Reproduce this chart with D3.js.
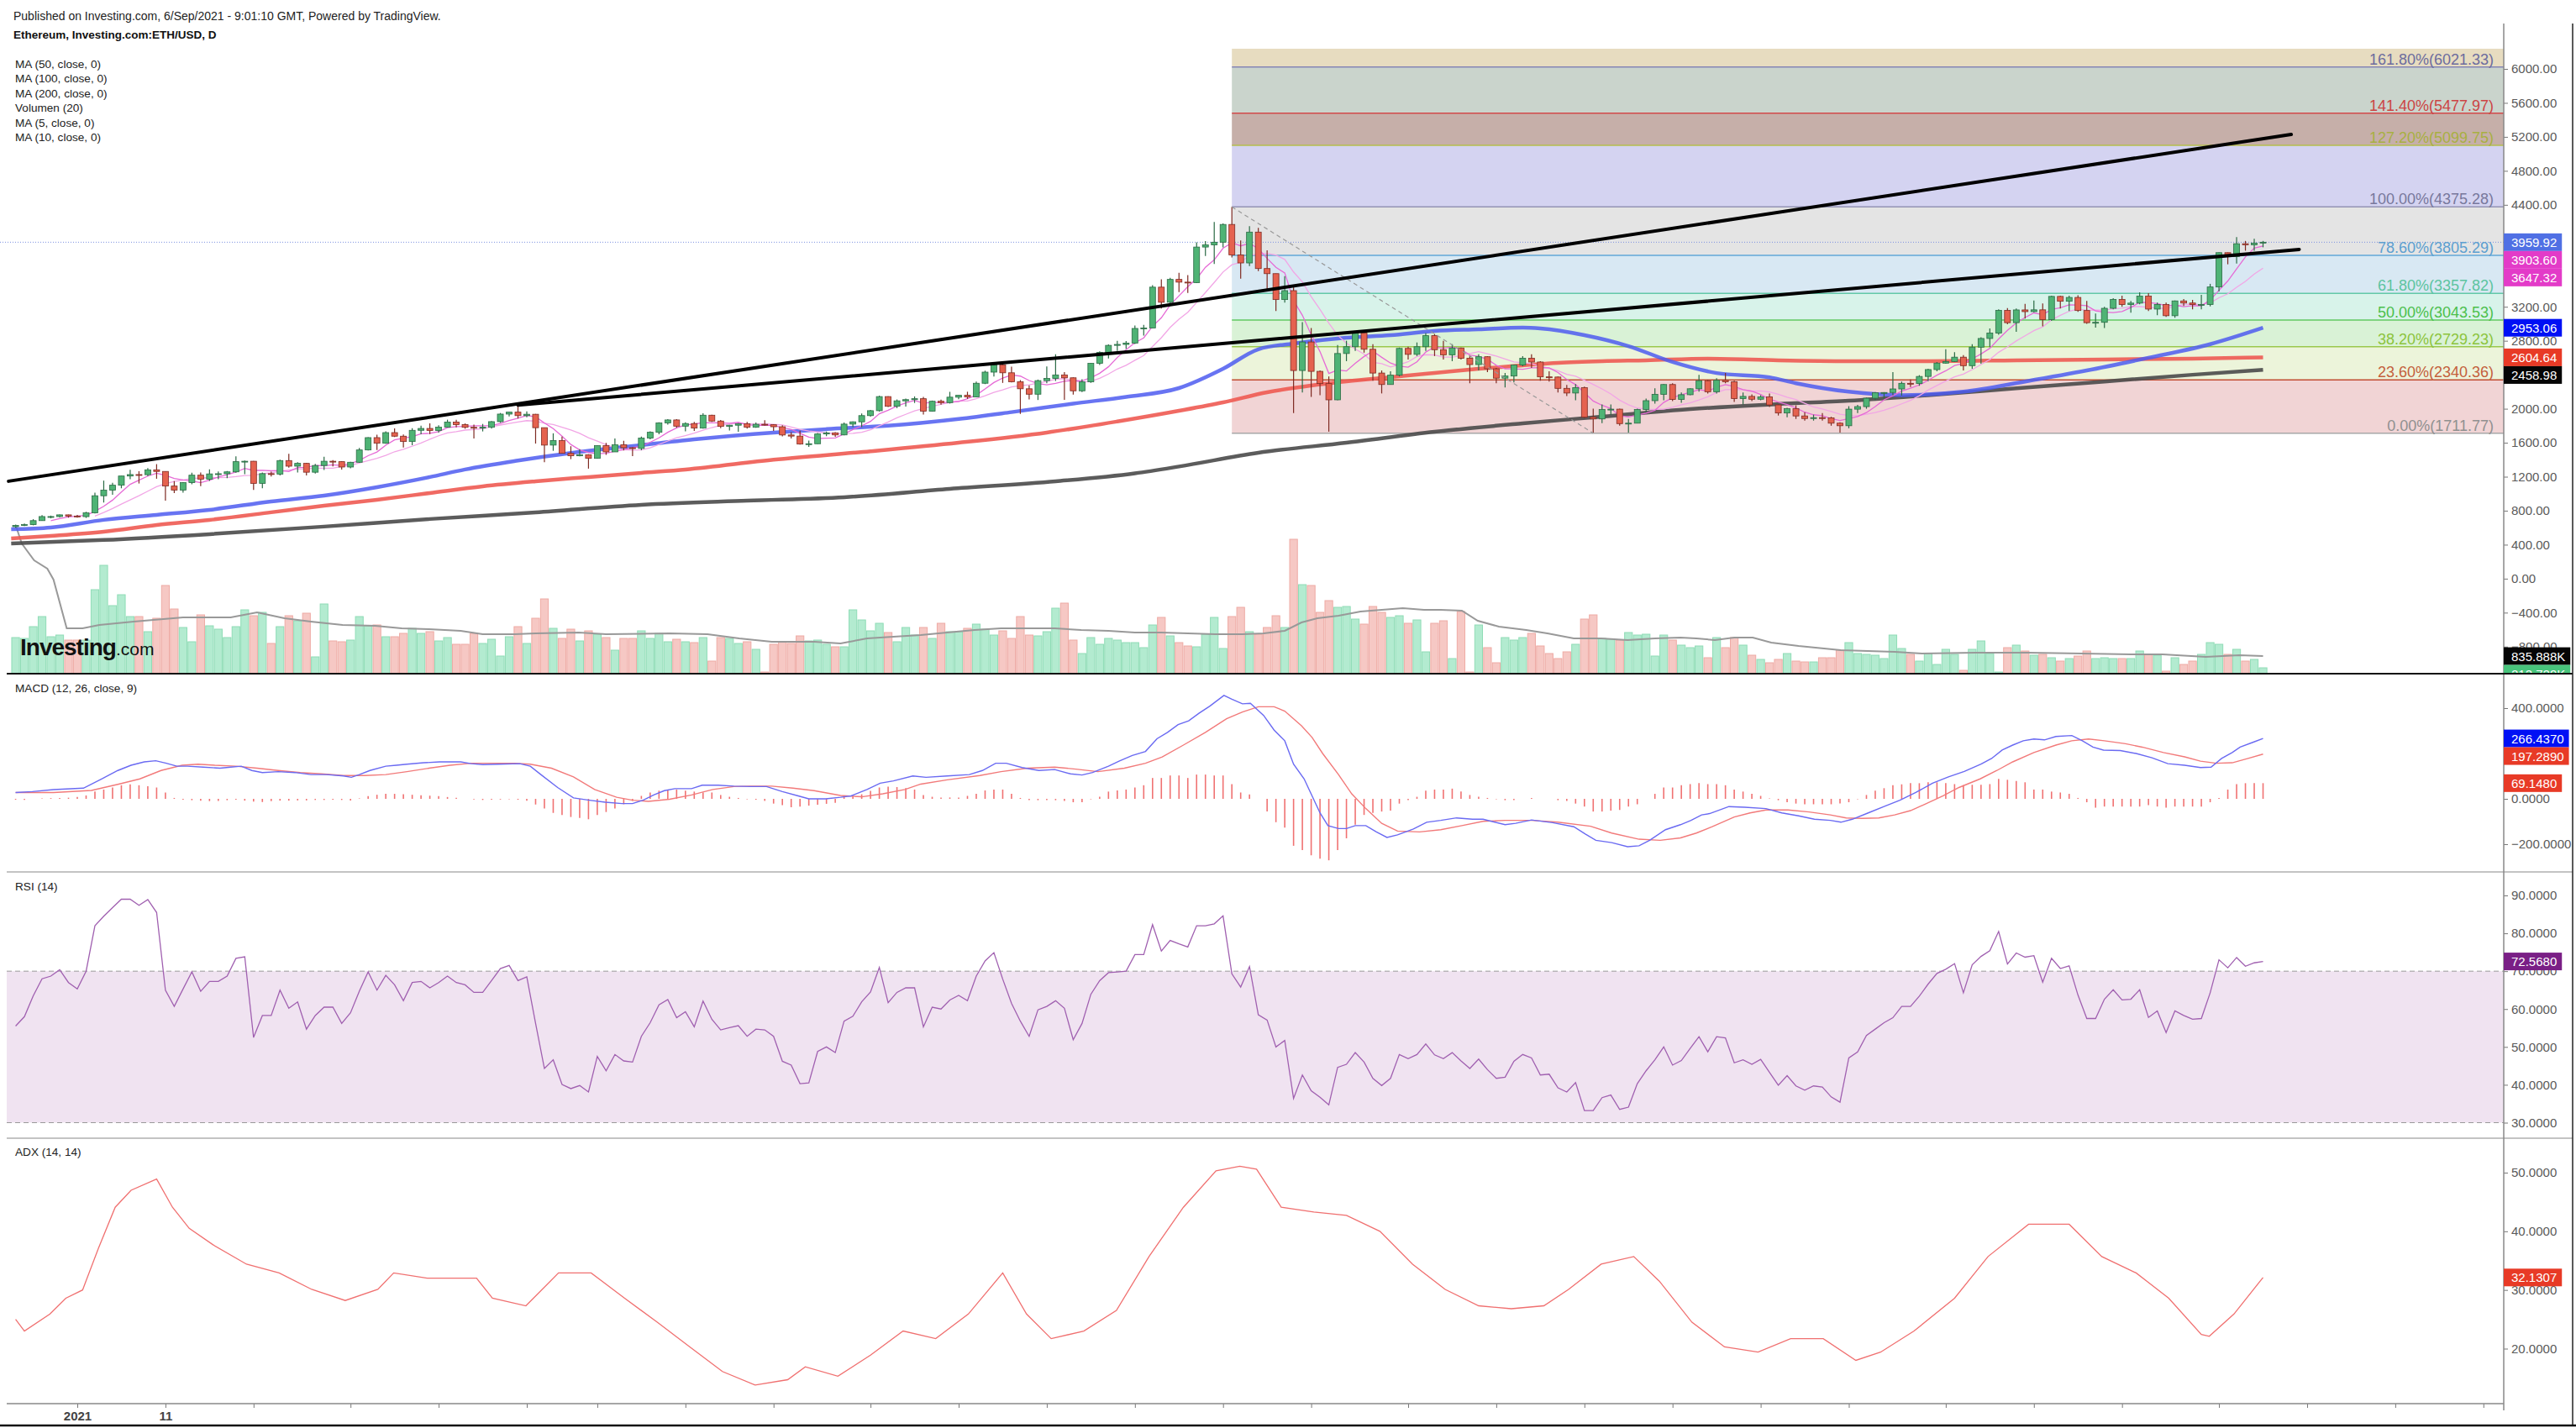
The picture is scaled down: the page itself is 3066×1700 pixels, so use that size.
<!DOCTYPE html>
<html><head><meta charset="utf-8">
<script src="https://cdn.jsdelivr.net/npm/d3@7"></script>
<style>
html,body{margin:0;padding:0;background:#fff;}
svg{display:block;font-family:"Liberation Sans",Arial,Helvetica,sans-serif;}
</style></head><body>
<svg id="chart" width="3066" height="1700"></svg>
<script>
// ================= DATA =================
// Daily candles from 2020-12-25 to 2021-09-06 (day offset -7 .. 248 from 2021-01-01)
const firstDayOffset = -7;
const firstOpen = 612;
const closes = [
626,636,683,731,731,751,737,
730,774,976,1041,1100,1208,1225,1224,1281,1262,1090,1043,1130,1218,1171,1233,1235,1257,1377,1382,1121,1236,1231,1390,1324,1357,1253,1332,1382,1377,1314,
1370,1515,1660,1594,1719,1677,1614,1746,1768,1744,1783,1843,1814,1781,1780,1782,1848,1937,1960,1919,1935,1777,1572,1626,1475,1446,1459,1416,
1565,1492,1575,1541,1533,1654,1723,1834,1868,1795,1826,1772,1924,1855,1792,1806,1823,1782,1817,1812,1788,1691,1678,1584,1588,1703,1716,1692,1819,1846,1919,
1977,2143,2029,2093,2107,2118,1971,2088,2072,2136,2158,2139,2300,2431,2514,2423,2317,2235,2171,2331,2357,2398,2364,2211,2316,2534,2662,2746,2757,2773,
2945,2950,3431,3253,3522,3490,3484,3903,3928,3960,4169,3810,3716,4079,3650,3590,3285,3390,2450,2786,2440,2296,2105,2650,2730,2890,2700,2420,2285,2395,2710,
2640,2730,2860,2695,2635,2715,2595,2520,2612,2470,2360,2385,2515,2595,2550,2375,2373,2240,2185,2248,1900,1880,1990,1995,1825,1830,1990,2095,2170,2285,
2110,2165,2235,2330,2200,2335,2318,2120,2145,2112,2140,2045,1950,2000,1915,1885,1895,1892,1830,1800,1995,2025,2124,2188,2191,2233,2299,2297,2380,2461,2537,
2556,2607,2507,2725,2827,2890,3157,3013,3163,3143,3164,3049,3322,3265,3310,3156,3013,3017,3182,3286,3226,3243,3325,3173,3227,3095,3269,3244,3226,3227,3433,
3837,3792,3942,3930,3950,3960];
const highs = [
636,648,700,748,742,754,754,
749,787,1011,1154,1129,1209,1282,1265,1301,1348,1262,1148,1135,1248,1250,1287,1262,1268,1439,1390,1385,1250,1260,1400,1470,1370,1363,1350,1436,1395,1383,
1376,1539,1665,1695,1735,1769,1697,1771,1800,1827,1805,1871,1871,1827,1812,1821,1856,1950,1961,2042,1969,1939,1777,1711,1672,1559,1525,1464,
1567,1598,1651,1622,1548,1671,1734,1840,1877,1877,1839,1845,1947,1930,1867,1810,1830,1844,1837,1864,1819,1806,1723,1742,1624,1713,1732,1725,1838,1850,1943,
1986,2154,2147,2109,2119,2145,2139,2096,2106,2199,2160,2200,2319,2448,2541,2547,2495,2337,2275,2343,2497,2641,2430,2370,2346,2536,2676,2756,2798,2796,
2979,2986,3454,3523,3541,3600,3573,3959,3973,4197,4180,4375,3980,4148,4130,3864,3540,3560,3440,3020,2950,2450,2380,2750,2800,2912,2890,2760,2450,2440,2720,
2730,2780,2890,2880,2800,2760,2720,2620,2640,2620,2480,2420,2520,2620,2640,2560,2440,2380,2280,2290,2260,2000,2050,2050,2000,1880,2000,2120,2240,2290,
2300,2190,2240,2400,2340,2360,2420,2330,2190,2170,2160,2180,2050,2010,2040,1960,1930,1950,1905,1840,2030,2045,2130,2195,2195,2430,2320,2345,2395,2470,2550,
2700,2665,2630,2760,2840,2945,3170,3185,3180,3235,3275,3240,3330,3330,3330,3335,3270,3120,3200,3300,3330,3270,3370,3360,3250,3250,3275,3290,3280,3340,3470,
3840,3840,4020,3975,4000,3975];
const lows = [
598,619,628,680,710,720,718,
719,715,768,896,987,1064,1171,1120,1207,1176,918,1007,1011,1111,1090,1150,1170,1183,1247,1230,1044,1063,1203,1215,1306,1250,1216,1236,1280,1320,1283,
1299,1364,1508,1515,1588,1666,1543,1571,1700,1703,1718,1780,1781,1765,1651,1733,1765,1835,1910,1885,1899,1590,1371,1505,1472,1407,1439,1295,
1413,1458,1492,1509,1442,1512,1640,1700,1812,1775,1734,1738,1765,1845,1770,1743,1730,1766,1776,1800,1739,1675,1651,1578,1550,1585,1676,1669,1686,1784,1783,
1907,1967,2021,2007,2026,2068,1931,1968,2048,2061,2113,2116,2138,2290,2380,2304,2310,1939,2110,2103,2300,2327,2104,2167,2195,2306,2515,2591,2680,2706,
2763,2862,2950,3180,3228,3372,3362,3478,3797,3704,3900,3780,3530,3680,3620,3400,3150,3250,1950,2190,2140,2160,1730,2100,2560,2680,2660,2330,2180,2320,2380,
2580,2620,2680,2620,2580,2560,2580,2300,2450,2430,2300,2250,2310,2500,2480,2330,2320,2190,2150,2100,1890,1720,1830,1930,1800,1720,1830,1960,2060,2100,
2090,2070,2160,2200,2180,2180,2300,2080,2050,2090,2100,2020,1920,1900,1880,1860,1860,1860,1800,1720,1770,1950,2000,2100,2120,2160,2155,2255,2270,2325,2440,
2530,2550,2450,2470,2530,2725,2870,2995,2905,3060,3135,2970,3035,3180,3150,3140,3000,2955,2950,3170,3200,3130,3230,3150,3100,3080,3070,3210,3170,3170,3205,
3380,3700,3710,3860,3860,3900];
// volume, thousands
const volumes = [
1720,1680,2240,2720,1760,1840,1600,1600,1600,4000,5160,3240,3760,2720,2720,2000,2640,
4200,3080,2200,1520,2800,2280,2120,1720,2240,3040,2760,2920,1440,2240,2760,2520,2880,800,3320,1560,
1520,1600,2720,2280,2320,1760,1760,1920,2160,1920,2000,1560,1720,1400,1400,1920,1440,1640,840,1760,
2240,1440,2640,3560,2160,1680,2120,1560,2040,1880,1720,1120,1680,1680,2040,1680,1920,1520,1640,1520,
1480,1720,600,1720,1680,1440,1520,1160,80,1400,1520,1440,1800,1560,1600,1400,1280,1280,3040,2560,
2040,2400,1960,1520,2200,1840,2200,1680,2400,2000,2000,2160,2360,2120,1840,2040,1680,2720,1840,1800,
2000,3120,3360,1600,960,1720,1400,1680,1600,1480,1480,1240,2320,2680,1800,1480,1320,1280,1880,2680,
1200,2720,3160,2000,1880,2200,2760,2200,6400,4240,4200,2920,3480,3160,3200,2600,2360,3200,2920,2680,
2760,2400,2560,1040,2400,2520,720,2960,80,2320,1240,520,1720,1600,1720,1920,1320,960,720,1040,
1400,2600,2800,1680,1640,1600,1960,1840,1880,840,1840,1600,1360,1240,1320,760,1720,1240,1720,1360,
880,680,520,680,960,600,560,560,760,760,1120,1480,960,920,880,720,1840,1200,920,600,
960,440,1160,920,160,1160,1560,960,80,1240,1360,1080,880,920,760,600,720,840,1080,720,
760,720,720,720,1080,920,880,120,760,440,600,920,1480,1400,920,1160,600,680,280];
// Volume MA(20): [day offset, value in thousands]
const volMA = [[-7,7080],[-6.3,6200],[-4.9,5400],[-3.4,5000],[-2.7,4480],[-1.2,2160],[0.6,2160],[2.5,2320],[6.4,2480],[12,2680],[17.4,2680],[20.4,2920],[23.5,2640],[26.5,2480],[30.1,2320],[33.8,2280],[36.8,2160],[39.9,2120],[43.5,2040],[46,1880],[49.6,1880],[52,1920],[56.9,1960],[60,1880],[67.2,1920],[71.5,1880],[75.1,1680],[78.8,1520],[83.6,1520],[86.6,1440],[89.6,1680],[92.6,1760],[95.7,1840],[98.7,1960],[101.8,2080],[104.8,2160],[110.9,2160],[113.9,2080],[117,2040],[120,1960],[123,1960],[126,1920],[129.1,1880],[132.2,1880],[134.6,1920],[137,2040],[138.9,2440],[140.7,2640],[143.1,2760],[145.6,2960],[148,3040],[150.4,3120],[152.8,3040],[154.7,3040],[157.1,3000],[158.9,2520],[161.3,2240],[164.4,2080],[166.8,1920],[169.8,1680],[172.9,1680],[175.9,1600],[179,1680],[181.9,1720],[183.7,1680],[185.8,1600],[188,1720],[190.1,1720],[192.2,1480],[195.3,1320],[200.1,1120],[206.2,1040],[209.3,960],[215.3,1000],[221.4,1000],[227.5,960],[233,920],[236.6,920],[241.5,800],[245.3,880],[248,835.888]];
// Moving averages: [day offset, price]
const ma50 = [[-7.5,583],[-3,603],[3,692],[9,751],[15,810],[22,909],[28,978],[34,1077],[40,1196],[44,1285],[50,1390],[56,1480],[63,1560],[70,1640],[79,1720],[85,1760],[92,1800],[100,1880],[106,1960],[113,2060],[119,2140],[125,2243],[130,2470],[134,2700],[138,2767],[144,2836],[149,2866],[154,2915],[159,2935],[164,2955],[166,2945],[171,2866],[176,2737],[181,2550],[186,2420],[192,2370],[195,2300],[201,2200],[207,2160],[214,2200],[221,2320],[228,2450],[235,2600],[242,2760],[248,2953.06]];
const ma100 = [[-7.5,474],[-3,504],[3,553],[9,632],[15,692],[22,781],[28,860],[34,929],[40,1008],[46,1087],[52,1146],[58,1196],[64,1245],[69,1285],[79,1400],[90,1500],[100,1600],[110,1720],[118,1850],[125,1976],[130,2075],[135,2194],[140,2273],[144,2322],[149,2372],[154,2421],[159,2470],[164,2510],[168,2540],[173,2560],[178,2570],[185,2590],[193,2570],[201,2560],[210,2560],[220,2570],[230,2580],[240,2590],[248,2604.64]];
const ma200 = [[-7.5,415],[3,455],[15,524],[28,613],[40,702],[52,781],[64,870],[76,919],[87,959],[99,1057],[111,1146],[120,1240],[125,1320],[134,1482],[144,1600],[154,1729],[164,1828],[173,1907],[183,1996],[193,2055],[201,2095],[210,2160],[220,2240],[230,2320],[240,2400],[248,2458.98]];
// MACD (12,26,9): [day offset, value]
const macdLine = [[-7,28],[-5.1,32],[-2.7,41],[0.7,47],[2.8,88],[4.6,125],[6.1,148],[7.6,163],[8.9,168],[10.1,157],[11.3,144],[12.5,144],[14.3,140],[16.2,135],[17.4,140],[18.6,144],[19.8,125],[21,116],[22.8,120],[24.7,116],[26.5,107],[28.3,107],[30.2,101],[31.1,95],[32,107],[33.2,125],[35,144],[36.2,148],[37.4,153],[39.3,159],[41.1,163],[43.5,163],[44.7,155],[46,151],[47.8,153],[50.2,155],[51.4,144],[52.6,107],[54.5,50],[56.3,4],[58.1,-6],[59.9,-15],[61.8,-21],[63,-21],[64.2,-6],[65.4,17],[66.6,36],[67.8,45],[69.7,45],[70.9,60],[72.7,60],[74.5,56],[76.3,54],[78.2,54],[80,32],[81.8,13],[83,0],[84.9,0],[86.6,7],[87.8,13],[89.6,41],[91.1,69],[92.6,79],[94.8,101],[96.3,95],[98.7,101],[101.2,107],[102.7,125],[104.2,157],[105.4,157],[107.2,138],[109.1,125],[110.9,129],[112.7,110],[114,105],[115.2,116],[117,144],[118.2,166],[119.7,191],[121.2,209],[122.5,265],[123.7,293],[124.9,327],[126.1,344],[127.3,378],[128.5,409],[130.1,456],[131,439],[132.2,419],[133.1,421],[134.6,368],[135.8,303],[137,256],[138,153],[139.2,88],[140.1,13],[141,-62],[141.9,-118],[143.1,-131],[144,-131],[145,-118],[146.2,-118],[147.4,-146],[148.6,-170],[149.8,-159],[151.6,-133],[153.1,-103],[154.7,-95],[156.5,-84],[158.3,-90],[159.5,-90],[162,-114],[163.2,-108],[165,-93],[167.4,-105],[169.8,-123],[171.1,-155],[172.3,-183],[174.1,-193],[175.9,-211],[177.2,-207],[178.4,-183],[180.2,-136],[181.9,-114],[183.1,-95],[184.3,-71],[185.2,-65],[187.4,-34],[189.2,-37],[191.6,-43],[193.4,-62],[195.3,-75],[197.1,-90],[198.9,-95],[200.1,-103],[201.4,-90],[203.2,-62],[205,-34],[206.8,-6],[208.6,28],[210.5,69],[212.3,97],[214.1,121],[216,153],[217.2,178],[218.4,215],[219.6,237],[220.8,256],[222,264],[223.2,260],[224.5,275],[226.3,279],[227.5,256],[228.7,228],[229.9,215],[231.8,213],[233.6,200],[235.4,181],[237.2,155],[239.1,148],[240.9,138],[242.1,140],[243.3,178],[244.5,204],[245.4,228],[246.9,250],[248,266.437]];
const signalLine = [[-7,28],[-2.7,28],[1.6,37],[4.6,64],[7.1,88],[9.5,125],[11.9,148],[13.7,153],[15.6,148],[18,144],[20.4,135],[22.8,125],[25.3,116],[27.7,110],[30.2,103],[32.6,103],[35,107],[37.4,120],[39.9,135],[42.3,148],[44.7,157],[47.2,157],[49.6,157],[51.4,153],[53.8,135],[56.3,97],[58.7,41],[61.2,7],[63,-6],[64.8,-11],[67.2,-2],[69.7,17],[72.1,41],[74.5,54],[76.3,56],[78.8,56],[81.2,47],[83.6,36],[86.6,15],[89,9],[91.4,22],[93.9,41],[95.7,65],[98.7,84],[102.4,103],[104.8,120],[107.8,135],[110.9,140],[113.3,131],[115.8,120],[118.8,135],[121.2,157],[123.1,185],[125.5,237],[128,293],[130.4,353],[132.2,383],[134,406],[135.8,406],[137,387],[138.9,322],[140.1,271],[141.3,200],[143.1,107],[144.6,22],[146.2,-43],[148,-108],[149.8,-142],[152.3,-146],[154.7,-136],[157.1,-118],[159.5,-99],[162,-95],[165,-95],[168,-103],[171.7,-121],[174.1,-151],[177.2,-178],[179.6,-183],[181.9,-172],[183.7,-151],[185.5,-123],[188,-80],[189.8,-62],[191.6,-49],[194.1,-49],[196.5,-58],[198.9,-71],[200.7,-84],[202.5,-86],[204.4,-84],[206.2,-71],[208,-52],[209.8,-21],[211.7,13],[213.5,50],[215.9,88],[217.8,125],[219.6,163],[222,204],[224.5,237],[226.3,256],[228.2,264],[230,256],[232.4,243],[234.3,228],[236.7,204],[239.1,185],[240.9,166],[242.7,157],[244.5,159],[246.3,178],[248,197.289]];
// MACD histogram, one value per candle
const macdHist = [
-4,-5,0,2,3,4,5,8,15,32,41,50,60,64,60,56,50,
28,4,-4,-6,-8,-10,-9,-6,-4,-8,-12,-14,-10,-8,-8,-7,-7,-5,-5,-4,
-5,-7,2,12,18,22,22,20,18,16,14,12,8,5,0,-3,-5,-4,-3,-2,
-4,-8,-25,-43,-62,-71,-80,-84,-90,-71,-58,-43,-24,-9,13,28,36,41,41,36,
32,28,28,17,9,4,-2,-4,-9,-21,-28,-37,-34,-30,-26,-22,-18,10,13,20,
35,50,54,52,47,41,17,9,6,6,6,13,22,37,41,41,22,4,-6,-6,
-6,-6,-9,-15,-15,-2,9,32,37,41,50,60,92,92,103,103,92,107,107,103,
103,65,28,19,0,-56,-103,-127,-207,-226,-249,-264,-271,-226,-174,-114,-71,-62,-56,-52,
-21,-6,9,36,41,41,45,32,17,9,4,-2,-6,-6,0,4,0,0,-6,-9,
-21,-34,-56,-56,-52,-49,-34,-24,0,22,50,50,60,65,69,65,65,60,41,32,
22,13,2,-6,-15,-21,-24,-24,-24,-24,-20,-15,-2,17,36,47,60,64,69,69,
73,73,69,65,60,62,62,65,88,84,79,73,41,41,32,28,22,4,-15,-39,
-34,-34,-34,-34,-34,-28,-34,-39,-34,-34,-34,-34,-15,4,41,65,69,69,69.148];
// RSI(14), one value per candle
const rsi = [
55.5,58,63.5,68,68.7,70.4,67,65.3,70,82,84.5,86.8,89,89,87.4,88.9,85.5,
65,60.7,65.3,69.8,64.7,67.3,67.3,68.7,73.4,73.8,52.5,58.3,58.3,65,60.2,61.9,54.7,58.3,60.5,60.5,
56.2,59,64.7,69.8,65,68.9,66.4,62.2,67,67.3,65.6,67,68.7,67,66.4,64.4,64.4,67.5,70.7,71.5,
67.5,68.5,56.2,44.3,46.6,40.1,39,39.8,38.1,47.5,43.7,48,46.3,46,52.8,56.4,61.1,62.5,57.7,59.3,
55.3,62.1,57.3,54.5,55.1,55.6,52.8,54.7,54.5,52.8,46.2,45.2,40.3,40.5,48.8,50,48.5,56.8,58.1,61.9,
64.5,71,61.7,64.4,65.6,65.6,55.3,60.5,60,62.4,63.6,62.2,68.7,72.7,74.9,67.9,61.5,56.8,52.8,59.8,
60.7,62.2,60.2,51.9,56.2,63.9,67.5,69.6,69.8,70,74.4,74.4,82.3,75.3,78.1,77.2,76.4,82,82,82.5,
84.6,69.3,65.8,71.2,58.5,57.1,50,51.7,36.4,42.6,38.4,36.7,34.7,44.6,45.4,48.5,46,41.7,39.8,41.7,
48,46.9,48,50.8,47.9,46.9,48.5,46.3,44.3,46.8,44,41.7,42,46.2,48,47.1,42.6,42.8,39.2,38.1,
40.6,33.2,33.2,36.6,37.3,33.5,34.1,40.3,43.7,46.6,50,45.2,46.4,49.6,52.7,48.7,52.7,52.4,45.8,46.6,
45.4,46.7,43.3,39.9,42.4,39.7,38.6,39.7,39.4,36.8,35.4,47.1,48.7,53,54.7,56.4,57.7,60.7,60.7,63.4,
66.6,69.4,70.5,72,64.3,71.7,73.9,75.4,80.5,71.9,74.8,73.7,74.1,67.1,73.4,70.7,71.4,63.7,57.5,57.5,
62.6,65.1,62.4,62.6,65.1,57.8,59.5,53.8,59.5,58.3,57.3,57.5,64.3,73,70.9,73.6,71.3,72.2,72.568];
// ADX(14,14): [day offset, value]
const adx = [[-7,25],[-6,23],[-3.1,25.9],[-1.3,28.6],[0.6,30],[2.4,37.1],[4.3,44.1],[6.1,47],[9,48.9],[10.8,44.1],[12.7,40.5],[15.4,37.7],[19.2,34.4],[22.9,32.9],[26.6,30.1],[30.4,28.2],[34.1,30.1],[35.9,32.9],[39.7,32],[45.3,32],[47.1,28.6],[50.9,27.3],[54.6,32.9],[58.3,32.9],[62.1,28.6],[65.8,24.5],[69.5,20.3],[73.2,16.1],[76.9,13.8],[80.6,14.7],[82.6,16.9],[86.3,15.3],[90,18.9],[93.7,23],[97.4,21.7],[101.1,25.9],[105,32.9],[107.7,25.9],[110.5,21.7],[114.2,23],[117.9,26.5],[121.6,35.7],[125.5,44.1],[129.2,50.3],[131.9,51.1],[133.8,50.6],[136.6,44.1],[140.3,43.3],[144,42.7],[147.8,40],[151.5,34.4],[155.2,30.1],[159,27.3],[162.7,26.8],[166.4,27.3],[169.2,30.1],[172.9,34.4],[176.6,35.7],[179.5,31.5],[183.2,24.5],[186.9,20.3],[190.7,19.4],[194.4,21.7],[198.1,21.7],[201.8,18],[204.6,19.4],[208.4,23],[213,28.6],[216.8,35.7],[221.4,41.2],[226,41.2],[229.7,35.7],[233.6,32.9],[237.3,28.6],[241,22.4],[241.9,22.1],[244.7,25.9],[248,32.1307]];
// Fibonacci retracement (from 2021-05-12 high to 2021-06-22 low)
const fibRatios = ["161.80%","141.40%","127.20%","100.00%","78.60%","61.80%","50.00%","38.20%","23.60%","0.00%"];
const fibValues = [6021.33,5477.97,5099.75,4375.28,3805.29,3357.82,3043.53,2729.23,2340.36,1711.77];
const fibStartDay = 131, fibEndDay = 172;
// Trend lines: [day offset, price]
const trendLines = [[[-7.8,1147],[251.2,5229]],[[50,2042],[252.1,3875]]];
const lastPrice = 3959.92;
const ma5Last = 3903.60, ma10Last = 3647.32;
const volLast = "213.729K", volMALast = "835.888K";
const legendLines = ["MA (50, close, 0)","MA (100, close, 0)","MA (200, close, 0)","Volumen (20)","MA (5, close, 0)","MA (10, close, 0)"];
const xTickLabels = ["2021","11"];
const priceTicks = d3.range(-800, 6001, 400);
const macdTicks = [-200,0,200,400];
const rsiTicks = [30,40,50,60,70,80,90];
const adxTicks = [20,30,40,50];

// ================= LAYOUT / STYLE =================
const AX = 2980, RIGHT = 3062;
const P = {top:58, vol:802, macdB:1038, rsiB:1355, adxB:1671};
const fibFill = ["#e7dcc0","#cad4cc","#c6afa9","#d4d3f1","#e4e4e4","#d8e8f3","#d8f3ea","#d9f2d6","#ecf4da","#f1d4d5"];
const fibLine = ["#8585b5","#d24a4a","#b4bc4c","#9494b4","#62a8d8","#62c8a8","#62c862","#9ac84c","#c24c32","#a8a8a8"];
const fibText = ["#6c6c9e","#cc4444","#a8b042","#78789c","#5c9fd0","#5cc4a0","#4cc04c","#8cc43c","#c4603c","#909090"];

const T0 = Date.UTC(2021,0,1), DAY = 864e5;
const toDate = d => new Date(T0 + d*DAY);
const x = d3.scaleUtc().domain([toDate(-8), toDate(275)]).range([92-8*10.49, 92+275*10.49]);
const X = d => x(toDate(d));
const yP = d3.scaleLinear().domain([-800,6000]).range([769.8,82]);
const yV = d3.scaleLinear().domain([0,6400]).range([P.vol,642]);
const yM = d3.scaleLinear().domain([-200,400]).range([1005,843]);
const yR = d3.scaleLinear().domain([30,90]).range([1336.5,1066]);
const yA = d3.scaleLinear().domain([20,50]).range([1605.5,1396]);

const svg = d3.select("#chart");
svg.append("rect").attr("width",3066).attr("height",1700).attr("fill","#fff");
const defs = svg.append("defs");
function clip(id,y0,y1){defs.append("clipPath").attr("id",id).append("rect").attr("x",0).attr("y",y0).attr("width",AX).attr("height",y1-y0);}
clip("cMain",P.top,P.vol-1); clip("cMacd",P.vol+1,P.macdB); clip("cRsi",P.macdB+1,P.rsiB); clip("cAdx",P.rsiB+1,P.adxB);

const candles = closes.map((c,i)=>{
  const o = i ? closes[i-1] : firstOpen;
  return {d:firstDayOffset+i, o, c, h:Math.max(highs[i],o,c), l:Math.min(lows[i],o,c), v:volumes[i]};
});

// ---------- main panel ----------
const gm = svg.append("g").attr("clip-path","url(#cMain)");
const fx0 = X(fibStartDay);
const bandEdges = [P.top].concat(fibValues.map(v=>yP(v)));
fibFill.forEach((f,i)=>{
  gm.append("rect").attr("x",fx0).attr("width",AX-fx0).attr("y",bandEdges[i]).attr("height",bandEdges[i+1]-bandEdges[i]).attr("fill",f);
});
fibValues.forEach((v,i)=>{
  gm.append("line").attr("x1",fx0).attr("x2",AX).attr("y1",yP(v)).attr("y2",yP(v)).attr("stroke",fibLine[i]).attr("stroke-width",1.5);
});
// last price dotted line
gm.append("line").attr("x1",0).attr("x2",AX).attr("y1",yP(lastPrice)).attr("y2",yP(lastPrice))
  .attr("stroke","#7b8fe0").attr("stroke-width",1).attr("stroke-dasharray","1,2");

// volume
const bw = 10.2;
gm.selectAll("rect.vol").data(candles).join("rect").attr("class","vol")
  .attr("x",d=>X(d.d)-bw/2+0.5).attr("width",bw-1)
  .attr("y",d=>yV(d.v)).attr("height",d=>P.vol-yV(d.v))
  .attr("fill",d=>d.c>=d.o?"#b3ebd0":"#f6c8c4").attr("stroke",d=>d.c>=d.o?"#8fdcb6":"#eeaaa4").attr("stroke-width",1);
const lineXY = (ys) => d3.line().x(p=>X(p[0])).y(p=>ys(p[1]));
gm.append("path").attr("d",lineXY(yV)(volMA)).attr("fill","none").attr("stroke","#999").attr("stroke-width",2);

// long MAs
gm.append("path").attr("d",lineXY(yP).curve(d3.curveMonotoneX)(ma200)).attr("fill","none").attr("stroke","#4a4a4a").attr("stroke-width",4.5).attr("stroke-opacity",0.9);
gm.append("path").attr("d",lineXY(yP).curve(d3.curveMonotoneX)(ma100)).attr("fill","none").attr("stroke","#ee5a52").attr("stroke-width",4.5).attr("stroke-opacity",0.9);
gm.append("path").attr("d",lineXY(yP).curve(d3.curveMonotoneX)(ma50)).attr("fill","none").attr("stroke","#4d5cf0").attr("stroke-width",4.5).attr("stroke-opacity",0.85);

// short MAs (from closes)
function sma(n){ return candles.map((c,i)=> i>=n-1 ? [c.d, d3.mean(closes.slice(i-n+1,i+1))] : null).filter(Boolean); }
gm.append("path").attr("d",lineXY(yP)(sma(10))).attr("fill","none").attr("stroke","#f2a6e6").attr("stroke-width",1.3);
gm.append("path").attr("d",lineXY(yP)(sma(5))).attr("fill","none").attr("stroke","#e66ad6").attr("stroke-width",1.3);

// candles
const cg = gm.append("g");
candles.forEach(k=>{
  const up = k.c>=k.o, cx = X(k.d);
  const col = up ? "#4fb375" : "#e5624f", edge = up ? "#2a6a44" : "#7e2a22";
  cg.append("line").attr("x1",cx).attr("x2",cx).attr("y1",yP(k.h)).attr("y2",yP(k.l)).attr("stroke",edge).attr("stroke-width",1.2);
  const yt = yP(Math.max(k.o,k.c)), yb = yP(Math.min(k.o,k.c));
  cg.append("rect").attr("x",cx-3.5).attr("width",7).attr("y",yt).attr("height",Math.max(1,yb-yt)).attr("fill",col).attr("stroke",edge).attr("stroke-width",0.8);
});

// fib diagonal
gm.append("line").attr("x1",X(fibStartDay)).attr("y1",yP(fibValues[3])).attr("x2",X(fibEndDay)).attr("y2",yP(fibValues[9]))
  .attr("stroke","#999").attr("stroke-width",1.2).attr("stroke-dasharray","5,4");
// trend lines
trendLines.forEach(t=>{
  gm.append("line").attr("x1",X(t[0][0])).attr("y1",yP(t[0][1])).attr("x2",X(t[1][0])).attr("y2",yP(t[1][1]))
    .attr("stroke","#000").attr("stroke-width",4).attr("stroke-linecap","round");
});
// fib labels
fibValues.forEach((v,i)=>{
  gm.append("text").attr("x",2968).attr("y",yP(v)-3).attr("text-anchor","end").attr("font-size",18)
    .attr("fill",fibText[i]).text(`${fibRatios[i]}(${v.toFixed(2)})`);
});

// ---------- MACD ----------
const gM = svg.append("g").attr("clip-path","url(#cMacd)");
gM.selectAll("line.h").data(candles).join("line").attr("class","h")
  .attr("x1",d=>X(d.d)).attr("x2",d=>X(d.d)).attr("y1",yM(0)).attr("y2",(d,i)=>yM(macdHist[i]))
  .attr("stroke","#f07272").attr("stroke-width",1.6);
gM.append("path").attr("d",lineXY(yM)(signalLine)).attr("fill","none").attr("stroke","#f27a7a").attr("stroke-width",1.4);
gM.append("path").attr("d",lineXY(yM)(macdLine)).attr("fill","none").attr("stroke","#6a6af2").attr("stroke-width",1.4);

// ---------- RSI ----------
const gR = svg.append("g").attr("clip-path","url(#cRsi)");
gR.append("rect").attr("x",8).attr("width",AX-8).attr("y",yR(70)).attr("height",yR(30)-yR(70)).attr("fill","#f0e3f1");
[70,30].forEach(v=>gR.append("line").attr("x1",8).attr("x2",AX).attr("y1",yR(v)).attr("y2",yR(v)).attr("stroke","#9a9a9a").attr("stroke-dasharray","6,4"));
gR.append("path").attr("d",d3.line().x((v,i)=>X(firstDayOffset+i)).y(v=>yR(v))(rsi)).attr("fill","none").attr("stroke","#a060b0").attr("stroke-width",1.3);

// ---------- ADX ----------
const gA = svg.append("g").attr("clip-path","url(#cAdx)");
gA.append("path").attr("d",lineXY(yA)(adx)).attr("fill","none").attr("stroke","#f07070").attr("stroke-width",1.3);

// ---------- texts ----------
svg.append("text").attr("x",16).attr("y",24).attr("font-size",14).attr("fill","#222").text("Published on Investing.com, 6/Sep/2021 - 9:01:10 GMT, Powered by TradingView.");
svg.append("text").attr("x",16).attr("y",46).attr("font-size",13.5).attr("font-weight","bold").attr("fill","#111").text("Ethereum, Investing.com:ETH/USD, D");
legendLines.forEach((t,i)=>svg.append("text").attr("x",18).attr("y",81+i*17.4).attr("font-size",13.6).attr("fill","#222").text(t));
svg.append("text").attr("x",18).attr("y",824).attr("font-size",13.6).attr("fill","#222").text("MACD (12, 26, close, 9)");
svg.append("text").attr("x",18).attr("y",1060).attr("font-size",13.6).attr("fill","#222").text("RSI (14)");
svg.append("text").attr("x",18).attr("y",1376).attr("font-size",13.6).attr("fill","#222").text("ADX (14, 14)");
// Investing.com logo
const logo = svg.append("text").attr("x",24).attr("y",780);
logo.append("tspan").attr("font-size",28).attr("font-weight","bold").attr("fill","#111").attr("letter-spacing",-1).text("Investing");
logo.append("tspan").attr("font-size",21).attr("fill","#111").text(".com");

// ---------- axes ----------
function rAxis(scale, ticks, fmt){
  const g = svg.append("g").attr("transform",`translate(${AX},0)`)
    .call(d3.axisRight(scale).tickValues(ticks).tickFormat(fmt).tickSize(5).tickPadding(4));
  g.select(".domain").remove();
  g.selectAll(".tick line").attr("stroke","#777");
  g.selectAll(".tick text").attr("font-size",15).attr("fill","#5a5a5a").attr("font-family","Liberation Sans, Arial, sans-serif");
  return g;
}
rAxis(yP, priceTicks, d3.format(".2f"));
rAxis(yM, macdTicks, d3.format(".4f"));
rAxis(yR, rsiTicks, d3.format(".4f"));
rAxis(yA, adxTicks, d3.format(".4f"));

const xTicks = [];
for(let m=0;m<10;m++) [1,11,21].forEach(dd=>xTicks.push(new Date(Date.UTC(2021,m,dd))));
const xa = svg.append("g").attr("transform",`translate(0,${P.adxB})`)
  .call(d3.axisBottom(x).tickValues(xTicks.filter(t=>x(t)<AX)).tickSize(5).tickPadding(4)
  .tickFormat((t,i)=> i<xTickLabels.length ? xTickLabels[i] : ""));
xa.select(".domain").remove();
xa.selectAll(".tick line").attr("stroke","#777");
xa.selectAll(".tick text").attr("font-size",15).attr("font-weight","bold").attr("fill","#444").attr("font-family","Liberation Sans, Arial, sans-serif");

// ---------- separators / frame ----------
svg.append("line").attr("x1",8).attr("x2",AX).attr("y1",P.adxB).attr("y2",P.adxB).attr("stroke","#888").attr("stroke-width",1.5);
svg.append("line").attr("x1",AX).attr("x2",AX).attr("y1",P.top-30).attr("y2",P.adxB+8).attr("stroke","#888").attr("stroke-width",1.5);
svg.append("line").attr("x1",8).attr("x2",RIGHT).attr("y1",P.vol).attr("y2",P.vol).attr("stroke","#111").attr("stroke-width",2);
svg.append("line").attr("x1",8).attr("x2",RIGHT).attr("y1",P.macdB).attr("y2",P.macdB).attr("stroke","#888").attr("stroke-width",1);
svg.append("line").attr("x1",8).attr("x2",RIGHT).attr("y1",P.rsiB).attr("y2",P.rsiB).attr("stroke","#888").attr("stroke-width",1);
svg.append("line").attr("x1",RIGHT).attr("x2",RIGHT).attr("y1",P.top-30).attr("y2",1697).attr("stroke","#222").attr("stroke-width",1.5);
svg.append("line").attr("x1",0).attr("x2",3066).attr("y1",1697).attr("y2",1697).attr("stroke","#111").attr("stroke-width",2.5);

// ---------- value tags ----------
function tags(list, clipTo){
  list.sort((a,b)=>a.y-b.y);
  let prev = -1e9;
  list.forEach(t=>{ if(t.y < prev+21) t.y = prev+21; prev = t.y; });
  const g = svg.append("g");
  if(clipTo) g.attr("clip-path",clipTo);
  list.forEach(t=>{
    const r = g.append("rect").attr("x",AX).attr("y",t.y-10.5).attr("height",21).attr("fill",t.bg);
    const tx = g.append("text").attr("x",AX+9).attr("y",t.y+5.5).attr("font-size",15).attr("fill","#fff").text(t.text);
    r.attr("width",tx.node().getComputedTextLength()+15);
  });
}
defs.append("clipPath").attr("id","cVolTag").append("rect").attr("x",AX).attr("y",0).attr("width",100).attr("height",P.vol-1);
tags([
  {y:yP(lastPrice), text:lastPrice.toFixed(2), bg:"#5070e4"},
  {y:yP(ma5Last), text:ma5Last.toFixed(2), bg:"#e33bc8"},
  {y:yP(ma10Last), text:ma10Last.toFixed(2), bg:"#e33bc8"},
  {y:yP(ma50[ma50.length-1][1]), text:ma50[ma50.length-1][1].toFixed(2), bg:"#0010f5"},
  {y:yP(ma100[ma100.length-1][1]), text:ma100[ma100.length-1][1].toFixed(2), bg:"#e83a26"},
  {y:yP(ma200[ma200.length-1][1]), text:ma200[ma200.length-1][1].toFixed(2), bg:"#050505"}
]);
tags([
  {y:yV(volMA[volMA.length-1][1]), text:volMALast, bg:"#050505"},
  {y:yV(volumes[volumes.length-1]), text:volLast, bg:"#48c47c"}
], "url(#cVolTag)");
tags([
  {y:yM(macdLine[macdLine.length-1][1]), text:macdLine[macdLine.length-1][1].toFixed(4), bg:"#0010f5"},
  {y:yM(signalLine[signalLine.length-1][1]), text:signalLine[signalLine.length-1][1].toFixed(4), bg:"#e83a26"},
  {y:yM(macdHist[macdHist.length-1]), text:macdHist[macdHist.length-1].toFixed(4), bg:"#e83a26"}
]);
tags([{y:yR(rsi[rsi.length-1]), text:rsi[rsi.length-1].toFixed(4), bg:"#7a1f86"}]);
tags([{y:yA(adx[adx.length-1][1]), text:adx[adx.length-1][1].toFixed(4), bg:"#e83a26"}]);
</script></body></html>
